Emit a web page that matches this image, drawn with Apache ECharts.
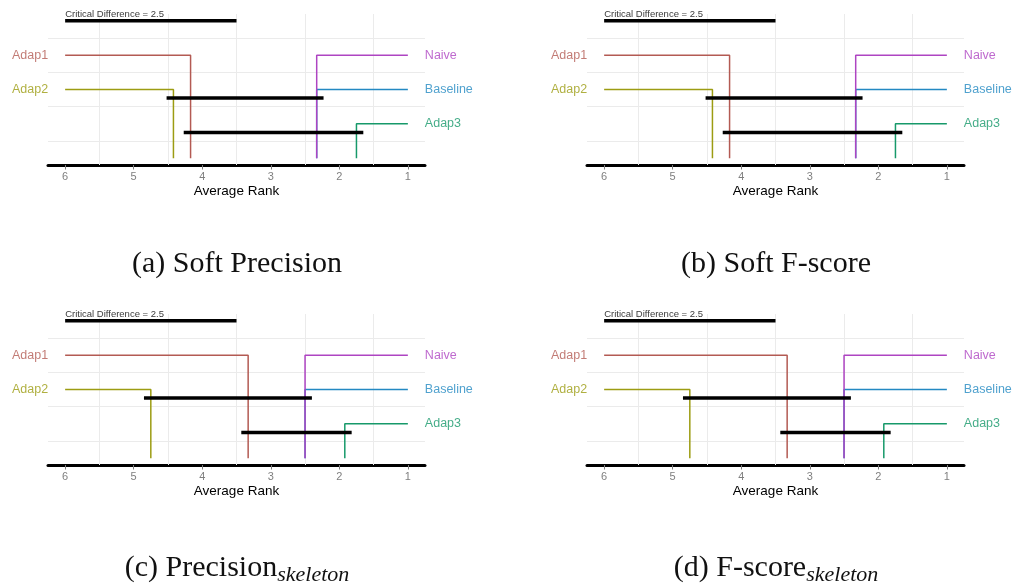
<!DOCTYPE html>
<html>
<head>
<meta charset="utf-8">
<script src="https://cdn.jsdelivr.net/npm/echarts@6/dist/echarts.min.js"></script>
<style>
  html, body { margin: 0; padding: 0; background: #fff; }
  #main { width: 1019px; height: 583px; }
</style>
</head>
<body>
<div id="main"></div>
<script>
// methods, in the order they are drawn
const methods = ['Adap1', 'Adap2', 'Baseline', 'Naive', 'Adap3'];
const methodColors = ['#B35A53', '#9C9C12', '#2389C2', '#AE44C2', '#17996A'];

// average ranks per panel (same order as methods)
const softPrecisionRanks = [4.17, 4.42, 2.33, 2.33, 1.75];
const softFscoreRanks = [4.17, 4.42, 2.33, 2.33, 1.75];
const precisionSkeletonRanks = [3.33, 4.75, 2.5, 2.5, 1.92];
const fscoreSkeletonRanks = [3.33, 4.75, 2.5, 2.5, 1.92];

// groups of methods that are not significantly different
const softCliques = [
  ['Adap2', 'Adap1', 'Naive', 'Baseline'],
  ['Adap1', 'Naive', 'Baseline', 'Adap3']
];
const skeletonCliques = [
  ['Adap2', 'Adap1', 'Naive', 'Baseline'],
  ['Adap1', 'Naive', 'Baseline', 'Adap3']
];

const criticalDifference = 2.5;
const rankTicks = [1, 2, 3, 4, 5, 6];
const gridMinorX = [1.5, 2.5, 3.5, 4.5, 5.5];
const gridMinorY = [0.5, 1.5, 2.5, 3.5];

// layout of the diagram rows
const leftSide = ['Adap1', 'Adap2'];
const rowOf = { Adap1: 3, Adap2: 2, Naive: 3, Baseline: 2, Adap3: 1 };
const cliqueRows = [1.75, 0.75];
const cdRow = 4;
const worstRank = 6, bestRank = 1;

const panels = [
  { ranks: softPrecisionRanks, cliques: softCliques, left: 48, top: 14 },
  { ranks: softFscoreRanks, cliques: softCliques, left: 587, top: 14 },
  { ranks: precisionSkeletonRanks, cliques: skeletonCliques, left: 48, top: 314 },
  { ranks: fscoreSkeletonRanks, cliques: skeletonCliques, left: 587, top: 314 }
];

const captions = [
  { text: '(a) Soft Precision', x: 237, y: 249 },
  { text: '(b) Soft F-score', x: 776, y: 249 },
  { text: '(c) Precision{sub|skeleton}', x: 237, y: 550 },
  { text: '(d) F-score{sub|skeleton}', x: 776, y: 550 }
];

const sansFont = 'Liberation Sans, Arial, sans-serif';
const serifFont = 'Liberation Serif, serif';

function panelSeries(p, i) {
  const series = [];
  // light grid lines, kept under everything
  series.push({
    type: 'line', xAxisIndex: i, yAxisIndex: i, data: [], silent: true, z: 1,
    markLine: {
      silent: true, symbol: 'none', animation: false, z: 1,
      label: { show: false },
      emphasis: { disabled: true },
      lineStyle: { color: '#EBEBEB', width: 1, type: 'solid' },
      data: gridMinorX.map(v => ({ xAxis: v })).concat(gridMinorY.map(v => ({ yAxis: v })))
    }
  });

  // critical difference bar
  series.push({
    type: 'line', xAxisIndex: i, yAxisIndex: i, symbol: 'none', z: 6,
    lineStyle: { color: '#000', width: 3.5 },
    data: [[worstRank, cdRow], [worstRank - criticalDifference, cdRow]]
  });
  series.push({
    type: 'scatter', xAxisIndex: i, yAxisIndex: i, symbolSize: 0, z: 7,
    data: [[worstRank, cdRow]],
    label: {
      show: true, position: [0, -1], align: 'left', verticalAlign: 'bottom',
      formatter: 'Critical Difference = ' + criticalDifference,
      color: '#000', fontSize: 9.5, fontFamily: sansFont
    }
  });

  methods.forEach((m, k) => {
    const r = p.ranks[k];
    const row = rowOf[m];
    const isLeft = leftSide.indexOf(m) >= 0;
    const start = isLeft ? worstRank : bestRank;
    series.push({
      type: 'line', xAxisIndex: i, yAxisIndex: i, symbol: 'none', z: 3 + k * 0.1,
      lineStyle: { color: methodColors[k], width: 1.5 },
      data: [[start, row], [r, row], [r, 0]]
    });
    series.push({
      type: 'scatter', xAxisIndex: i, yAxisIndex: i, symbolSize: 0, z: 7,
      data: [[start, row]],
      label: {
        show: true, position: isLeft ? 'left' : 'right', distance: 17,
        formatter: m, color: methodColors[k], fontSize: 12.5, fontFamily: sansFont
      }
    });
  });

  // clique bars, a bit wider than the ranks they join
  p.cliques.forEach((c, j) => {
    const rs = c.map(m => p.ranks[methods.indexOf(m)]);
    series.push({
      type: 'line', xAxisIndex: i, yAxisIndex: i, symbol: 'none', z: 6,
      lineStyle: { color: '#000', width: 3.5 },
      data: [[Math.max(...rs) + 0.1, cliqueRows[j]], [Math.min(...rs) - 0.1, cliqueRows[j]]]
    });
  });
  return series;
}

const chart = echarts.init(document.getElementById('main'), null, { renderer: 'canvas' });

const option = {
  animation: false,
  backgroundColor: '#fff',
  title: captions.map(c => ({
    text: c.text, left: c.x, top: c.y, textAlign: 'center', padding: 0,
    textStyle: {
      fontFamily: serifFont, fontSize: 30, fontWeight: 'normal', color: '#111',
      rich: {
        sub: { fontFamily: serifFont, fontStyle: 'italic', fontSize: 22, color: '#111', padding: [14, 0, 0, 0] }
      }
    }
  })),
  grid: panels.map(p => ({ left: p.left, top: p.top, width: 377, height: 151 })),
  xAxis: panels.map((p, i) => ({
    gridIndex: i, type: 'value', inverse: true, min: 0.75, max: 6.25,
    axisLine: { show: true, onZero: false, lineStyle: { color: '#000', width: 3 } },
    axisTick: { show: true, customValues: rankTicks, length: 4.5, lineStyle: { color: '#7F7F7F', width: 1 } },
    axisLabel: { customValues: rankTicks, color: '#7F7F7F', fontSize: 11, margin: 6, fontFamily: sansFont },
    splitLine: { show: false },
    name: 'Average Rank', nameLocation: 'middle', nameGap: 19,
    nameTextStyle: { color: '#000', fontSize: 13.5, fontFamily: sansFont }
  })),
  yAxis: panels.map((p, i) => ({
    gridIndex: i, type: 'value', min: -0.2, max: 4.2, show: false
  })),
  series: panels.map(panelSeries).flat()
};

chart.setOption(option);
</script>
</body>
</html>
